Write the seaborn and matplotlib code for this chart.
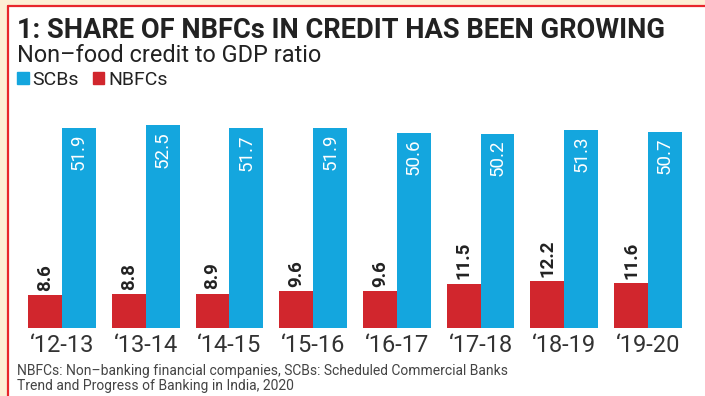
import matplotlib
matplotlib.use("Agg")
import matplotlib.pyplot as plt
from matplotlib.patches import Rectangle, Patch
from matplotlib.lines import Line2D
import seaborn as sns
import pandas as pd

# Data: non-food credit to GDP ratio (%)
years = ["\u201812-13", "\u201813-14", "\u201814-15", "\u201815-16",
         "\u201816-17", "\u201817-18", "\u201818-19", "\u201819-20"]
scbs = [51.9, 52.5, 51.7, 51.9, 50.6, 50.2, 51.3, 50.7]
nbfcs = [8.6, 8.8, 8.9, 9.6, 9.6, 11.5, 12.2, 11.6]

BLUE = "#14a6de"
RED = "#d1262d"
CREAM = "#fdefd5"
FRAME = "#e8262c"
INK = "#222222"

sns.set_theme(style="white")
plt.rcParams["font.family"] = ["Roboto", "DejaVu Sans"]

df = pd.DataFrame({
    "year": years * 2,
    "value": nbfcs + scbs,
    "series": ["NBFCs"] * len(years) + ["SCBs"] * len(years),
})

W, H = 705, 396
fig = plt.figure(figsize=(W / 100, H / 100), dpi=100)
fig.patch.set_facecolor(CREAM)

# white card with a red frame on top and left
fig.patches.append(Rectangle((7.5 / W, 0), 1, 1 - 6 / H, transform=fig.transFigure,
                             facecolor="white", edgecolor="none", zorder=-5))
fig.add_artist(Line2D([7.5 / W, 1], [1 - 6 / H, 1 - 6 / H], transform=fig.transFigure,
                      color=FRAME, lw=1.6, zorder=-4))
fig.add_artist(Line2D([7.5 / W, 7.5 / W], [0, 1 - 6 / H], transform=fig.transFigure,
                      color=FRAME, lw=1.6, zorder=-4))

left = 20.2 / W
bottom = (H - 328) / H
ymax = 59.0
ax = fig.add_axes([left, bottom, 669.6 / W, ymax * 3.86 / H])
ax.set_facecolor("none")
ax.set_zorder(2)

sns.barplot(data=df, x="year", y="value", hue="series",
            hue_order=["NBFCs", "SCBs"], palette={"NBFCs": RED, "SCBs": BLUE},
            width=0.81, saturation=1, legend=False, ax=ax, linewidth=0)

ax.set_ylim(0, ymax)
ax.set_xlim(-0.5, len(years) - 0.5)
ax.set_xlabel("")
ax.set_ylabel("")
ax.set_yticks([])
for s in ax.spines.values():
    s.set_visible(False)
ax.tick_params(axis="x", length=0, pad=4.5, labelsize=17, labelcolor="#333333")

# value labels: NBFCs above the bar, SCBs inside the bar top
for bar in ax.containers[0]:
    x = bar.get_x() + bar.get_width() / 2
    h = bar.get_height()
    ax.annotate(f"{h:.1f}", (x, h), xytext=(0, 3), textcoords="offset points",
                rotation=90, ha="center", va="bottom", fontsize=13.5,
                color=INK, fontweight="bold")
for bar in ax.containers[1]:
    x = bar.get_x() + bar.get_width() / 2
    h = bar.get_height()
    ax.annotate(f"{h:.1f}", (x, h), xytext=(0, -4), textcoords="offset points",
                rotation=90, ha="center", va="top", fontsize=13.5,
                color="white")

# headings
fig.text(17 / W, 1 - 30 / H, "1: SHARE OF NBFCs IN CREDIT HAS BEEN GROWING",
         ha="left", va="center", fontsize=19.6, fontweight="bold", color=INK)
fig.text(17 / W, 1 - 55 / H, "Non\u2013food credit to GDP ratio",
         ha="left", va="center", fontsize=16.9, color=INK)

fig.legend(handles=[Patch(color=BLUE, label="SCBs"), Patch(color=RED, label="NBFCs")],
           loc="center left", bbox_to_anchor=(17 / W, 1 - 80 / H), ncol=2,
           frameon=False, handlelength=0.6, handleheight=0.6, handletextpad=0.2,
           columnspacing=0.7, borderpad=0, borderaxespad=0, fontsize=14,
           labelcolor=INK)

# footnotes
fig.text(17 / W, 1 - 371 / H,
         "NBFCs: Non\u2013banking financial companies, SCBs: Scheduled Commercial Banks",
         ha="left", va="center", fontsize=10, color="#444444")
fig.text(17 / W, 1 - 386 / H, "Trend and Progress of Banking in India, 2020",
         ha="left", va="center", fontsize=10, color="#444444")

fig.savefig("out.png", dpi=100, facecolor=fig.get_facecolor())
